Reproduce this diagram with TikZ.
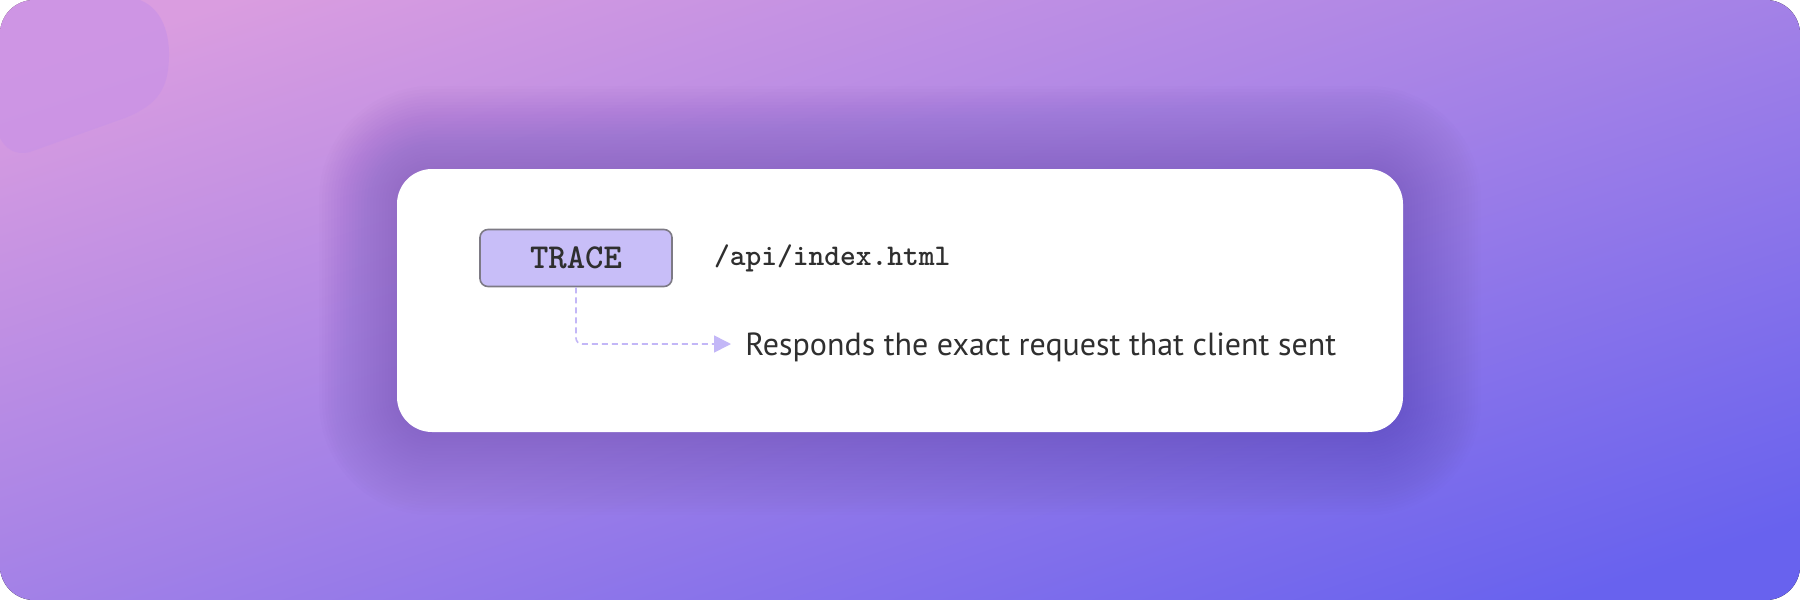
\documentclass[tikz,border=0pt]{standalone}
\usepackage{fontspec}
\setmainfont{PT Sans}
\usetikzlibrary{positioning}
\usetikzlibrary{arrows.meta}

\definecolor{bgpink}{HTML}{DA9DE0}
\definecolor{bgmid}{HTML}{A381E7}
\definecolor{bgblue}{HTML}{6862EE}
\definecolor{blobcol}{HTML}{CA93E6}
\definecolor{shadowcol}{HTML}{4A2A8A}
\definecolor{methodfill}{HTML}{C8BEF8}
\definecolor{methodline}{HTML}{7D7A85}
\definecolor{flowcol}{HTML}{C3B7F7}
\definecolor{textcol}{HTML}{2F2F2F}

\pgfdeclareverticalshading{backdrop}{100bp}{color(0bp)=(bgblue); color(19bp)=(bgblue);
  color(50bp)=(bgmid); color(81bp)=(bgpink); color(100bp)=(bgpink)}

\begin{document}
\begin{tikzpicture}[
    x=0.5pt, y=-0.5pt,
    card/.style={fill=white, rounded corners=17.5pt, inner sep=0pt, minimum width=503pt, minimum height=131.5pt},
    methodbox/.style={draw=methodline, fill=methodfill, line width=0.8pt, rounded corners=4pt,
        minimum width=96pt, minimum height=28.5pt, inner sep=0pt, text=textcol,
        font=\ttfamily\bfseries\fontsize{17.5}{20}\selectfont},
    pathlabel/.style={inner sep=0pt, text=textcol, font=\ttfamily\bfseries\fontsize{15}{18}\selectfont},
    desclabel/.style={inner sep=0pt, text=textcol, font=\fontsize{16}{19}\selectfont},
    flow/.style={draw=flowcol, line width=0.8pt, dash pattern=on 3pt off 2pt, rounded corners=3pt,
        -{Triangle[length=8.5pt,width=8.5pt]}},
  ]

  \useasboundingbox (0,0) rectangle (1800,600);
  \fill[white] (0,0) rectangle (1800,600);

  % background
  \begin{scope}
    \clip[rounded corners=17pt] (0,0) rectangle (1800,600);
    \begin{scope}[transform canvas={xscale=3}]
      \fill[shading=backdrop, shading angle=45] (0,0) rectangle (600,600);
    \end{scope}
    \fill[blobcol, opacity=0.75] (0,0) -- (140,0) .. controls (165,10) and (172,40) .. (168,70)
      .. controls (165,95) and (150,108) .. (125,118) -- (30,152)
      .. controls (15,156) and (5,148) .. (0,138) -- cycle;
    % soft shadow of the card
    \foreach \s in {1,...,26}
      \fill[shadowcol, opacity=0.0105, rounded corners=17.5pt+1.5pt*\s]
        (397-3*\s,169-3.2*\s) rectangle (1403+3*\s,432+3.2*\s);
  \end{scope}

  \node[card] (panel) at (900,300.5) {};

  \node[methodbox] (trace) at (576,258) {TRACE};
  \node[pathlabel, right=20.5pt of trace] (path) {/api/index.html};
  \coordinate (flowend) at (731,344);
  \node[desclabel, right=7pt of flowend, yshift=-1.5pt] (desc) {Responds the exact request that client sent};

  \draw[flow] (trace.south) |- (flowend);

\end{tikzpicture}
\end{document}
